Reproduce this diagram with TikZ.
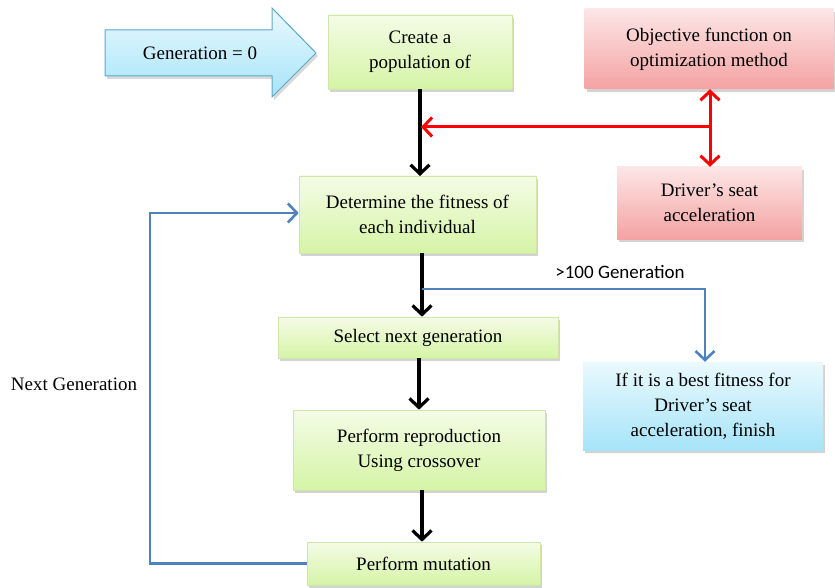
\documentclass[tikz,border=0pt]{standalone}
\usepackage{fontspec}
\setmainfont{Liberation Serif}
\newfontfamily\calib{Carlito}
\usetikzlibrary{arrows.meta,shadows}
\definecolor{gtop}{HTML}{F4FCE6}
\definecolor{gbot}{HTML}{D5F4A6}
\definecolor{gbrd}{HTML}{CFE6A8}
\definecolor{rtop}{HTML}{FDE6E6}
\definecolor{rbot}{HTML}{F4A2A2}
\definecolor{btop}{HTML}{EAF9FE}
\definecolor{bbot}{HTML}{A6E4F8}
\definecolor{bbrd}{HTML}{5AA9C9}
\definecolor{lineblue}{HTML}{4F81BD}
\tikzset{
  rbarb/.tip={Straight Barb[length=9pt,width=19pt,line width=3pt]},
  box/.style={rectangle, align=center, inner sep=2pt,
    font=\fontsize{19}{25}\selectfont,
    drop shadow={opacity=0.35, shadow xshift=2pt, shadow yshift=-3pt}},
  gbox/.style={box, draw=gbrd, line width=0.6pt, top color=gtop, bottom color=gbot},
  rbox/.style={box, draw=none, top color=rtop, bottom color=rbot},
  bbox/.style={box, draw=none, top color=btop, bottom color=bbot},
  blk/.style={line width=3.2pt, black, -{Straight Barb[length=9pt,width=19pt,line width=3.2pt]}},
  redl/.style={line width=3pt, red},
  bll/.style={line width=2.6pt, lineblue},
  barb/.style={-{Straight Barb[length=9pt,width=19pt,line width=2.6pt]}},
  lbl/.style={font=\fontsize{19}{25}\selectfont}
}
\begin{document}
\begin{tikzpicture}[x=1pt,y=-1pt]
\useasboundingbox (0,0) rectangle (835,588);
% start arrow
\path[draw=bbrd, line width=1pt, top color=btop, bottom color=bbot,
  drop shadow={opacity=0.3, shadow xshift=2pt, shadow yshift=-3pt}]
  (105,30) -- (272,30) -- (272,8) -- (316,53) -- (272,97) -- (272,76) -- (105,76) -- cycle;
\node[lbl] (gen0) at (200,53) {Generation = 0};
% boxes
\node[gbox, minimum width=184pt, minimum height=74pt] (create) at (420,52) {Create a\\population of};
\node[rbox, minimum width=249pt, minimum height=80pt] (obj) at (709,49) {Objective function on\\optimization method};
\node[rbox, minimum width=185pt, minimum height=72pt] (driver) at (709.5,203) {Driver’s seat\\acceleration};
\node[gbox, minimum width=237pt, minimum height=77pt] (det) at (417.5,214.5) {Determine the fitness of\\each individual};
\node[gbox, minimum width=280pt, minimum height=41pt] (sel) at (418,337.5) {Select next generation};
\node[bbox, minimum width=240pt, minimum height=88pt] (res) at (703,406) {If it is a best fitness for\\Driver’s seat\\acceleration, finish};
\node[gbox, minimum width=252pt, minimum height=80pt] (rep) at (419,450) {Perform reproduction\\Using crossover};
\node[gbox, minimum width=233pt, minimum height=43pt] (mut) at (423.5,563.5) {Perform mutation};
% labels
\node[font=\calib\fontsize{19}{22}\selectfont] (gt100) at (620,272) {>100 Generation};
\node[lbl] (nextgen) at (74,384) {Next Generation};
% black arrows
\draw[blk] (420,89) -- (420,176);
\draw[blk] (det.south -| 422,0) -- (sel.north -| 422,0);
\draw[blk] (sel.south -| 419,0) -- (rep.north -| 419,0);
\draw[blk] (rep.south -| 422,0) -- (mut.north -| 422,0);
% red arrows
\coordinate (rj) at (710,127);
\draw[redl, rbarb-rbarb] (obj.south -| rj) -- (driver.north -| rj);
\draw[redl, -rbarb] (rj) -- (421,127);
% blue
\coordinate (bj) at (422,289);
\draw[bll, barb] (bj) -- (705,289) -- (res.north -| 705,0);
\draw[bll, barb] (mut.west) -- (150,563.5) -- (150,213) -- (det.west |- 0,213);
\end{tikzpicture}
\end{document}
